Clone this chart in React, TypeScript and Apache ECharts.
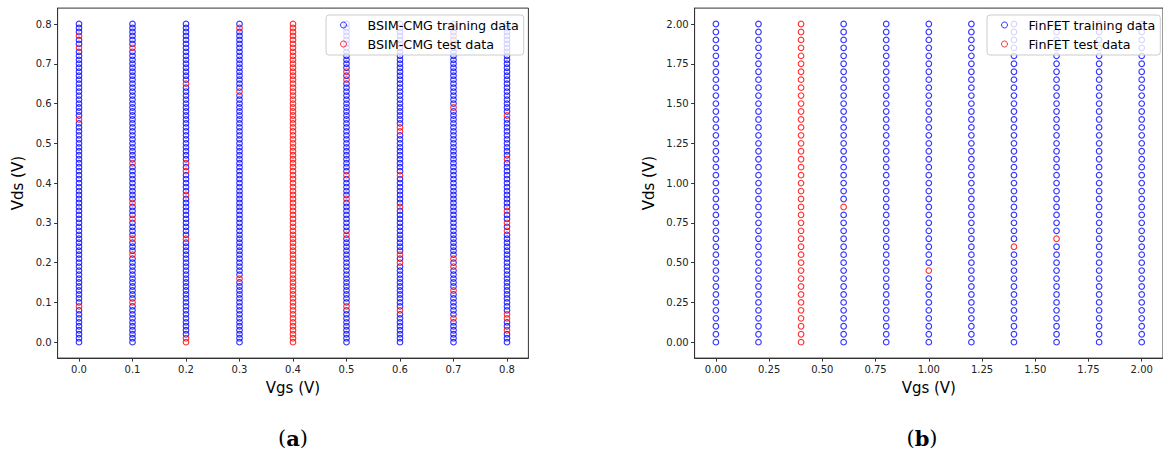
import React, { useEffect, useRef } from "react";
import * as echarts from "echarts";

// ---------- Data (a): BSIM-CMG ----------
const VGS_A = [0.0, 0.1, 0.2, 0.3, 0.4, 0.5, 0.6, 0.7, 0.8];
const VDS_A = [
  0.0, 0.01, 0.02, 0.03, 0.04, 0.05, 0.06, 0.07, 0.08, 0.09,
  0.1, 0.11, 0.12, 0.13, 0.14, 0.15, 0.16, 0.17, 0.18, 0.19,
  0.2, 0.21, 0.22, 0.23, 0.24, 0.25, 0.26, 0.27, 0.28, 0.29,
  0.3, 0.31, 0.32, 0.33, 0.34, 0.35, 0.36, 0.37, 0.38, 0.39,
  0.4, 0.41, 0.42, 0.43, 0.44, 0.45, 0.46, 0.47, 0.48, 0.49,
  0.5, 0.51, 0.52, 0.53, 0.54, 0.55, 0.56, 0.57, 0.58, 0.59,
  0.6, 0.61, 0.62, 0.63, 0.64, 0.65, 0.66, 0.67, 0.68, 0.69,
  0.7, 0.71, 0.72, 0.73, 0.74, 0.75, 0.76, 0.77, 0.78, 0.79,
  0.8,
];
const TEST_A_FULL_COLUMN = 0.4;
const TEST_A: [number, number][] = [
  [0.0, 0.09], [0.0, 0.56], [0.0, 0.74], [0.0, 0.77],
  [0.1, 0.1], [0.1, 0.22], [0.1, 0.26], [0.1, 0.31], [0.1, 0.35], [0.1, 0.45], [0.1, 0.74],
  [0.2, 0.0], [0.2, 0.01], [0.2, 0.26], [0.2, 0.37], [0.2, 0.43], [0.2, 0.45], [0.2, 0.65],
  [0.3, 0.16], [0.3, 0.63], [0.3, 0.79],
  [0.5, 0.09], [0.5, 0.27], [0.5, 0.36], [0.5, 0.42], [0.5, 0.66], [0.5, 0.68],
  [0.6, 0.08], [0.6, 0.2], [0.6, 0.22], [0.6, 0.34], [0.6, 0.42], [0.6, 0.53], [0.6, 0.54],
  [0.7, 0.06], [0.7, 0.13], [0.7, 0.19], [0.7, 0.21], [0.7, 0.59], [0.7, 0.75], [0.7, 0.77],
  [0.8, 0.03], [0.8, 0.06], [0.8, 0.07], [0.8, 0.28], [0.8, 0.3], [0.8, 0.33], [0.8, 0.46], [0.8, 0.57],
];
const TICKS_A = [0.0, 0.1, 0.2, 0.3, 0.4, 0.5, 0.6, 0.7, 0.8];

// ---------- Data (b): FinFET ----------
const VGS_B = [0.0, 0.2, 0.4, 0.6, 0.8, 1.0, 1.2, 1.4, 1.6, 1.8, 2.0];
const VDS_B = [
  0.0, 0.05, 0.1, 0.15, 0.2, 0.25, 0.3, 0.35, 0.4, 0.45,
  0.5, 0.55, 0.6, 0.65, 0.7, 0.75, 0.8, 0.85, 0.9, 0.95,
  1.0, 1.05, 1.1, 1.15, 1.2, 1.25, 1.3, 1.35, 1.4, 1.45,
  1.5, 1.55, 1.6, 1.65, 1.7, 1.75, 1.8, 1.85, 1.9, 1.95,
  2.0,
];
const TEST_B_FULL_COLUMN = 0.4;
const TEST_B: [number, number][] = [
  [0.6, 0.85], [1.0, 0.45], [1.4, 0.6], [1.6, 0.65],
];
const TICKS_B = [0.0, 0.25, 0.5, 0.75, 1.0, 1.25, 1.5, 1.75, 2.0];

const key = (a: number, b: number) => `${Math.round(a * 100)}_${Math.round(b * 100)}`;

function split(vgs: number[], vds: number[], tests: [number, number][], full: number) {
  const testSet = new Set(tests.map(([g, d]) => key(g, d)));
  const train: number[][] = [];
  const test: number[][] = [];
  for (const g of vgs) {
    for (const d of vds) {
      const isTest = Math.abs(g - full) < 1e-9 || testSet.has(key(g, d));
      (isTest ? test : train).push([g, d]);
    }
  }
  return { train, test };
}

const FONT = "DejaVu Sans";
const AXIS_COLOR = "#333";

function axisCommon(ticks: number[], digits: number) {
  return {
    type: "value",
    splitLine: { show: false },
    axisLine: { show: true, onZero: false, lineStyle: { color: AXIS_COLOR, width: 1 } },
    axisTick: { show: true, length: 3.5, customValues: ticks, lineStyle: { color: AXIS_COLOR, width: 1 } },
    axisLabel: {
      customValues: ticks,
      formatter: (v: number) => v.toFixed(digits),
      fontFamily: FONT,
      fontSize: 10,
      color: "#222",
      margin: 6,
    },
    nameLocation: "middle",
    nameTextStyle: { fontFamily: FONT, fontSize: 15, color: "#000" },
  };
}

const BLUE = "#0000ff";
const RED = "#ff0000";

function scatter(name: string, data: number[][], color: string, idx: number) {
  return {
    type: "scatter",
    name,
    xAxisIndex: idx,
    yAxisIndex: idx,
    data,
    symbol: "circle",
    symbolSize: 5.6,
    itemStyle: { color: "rgba(0,0,0,0)", borderColor: color, borderWidth: 1.15 },
    emphasis: { disabled: true },
  };
}

function legend(names: string[], left: number, textPad: number) {
  return {
    orient: "vertical",
    left,
    top: 15,
    data: names,
    itemWidth: 6,
    itemHeight: 6,
    itemGap: 5,
    padding: [3, 5, 4, 14],
    backgroundColor: "rgba(255,255,255,0.8)",
    borderColor: "#cccccc",
    borderWidth: 1,
    borderRadius: 3,
    selectedMode: false,
    itemStyle: { borderWidth: 1 },
    textStyle: {
      fontFamily: FONT,
      fontSize: 12.7,
      color: "#000",
      lineHeight: 14,
      padding: [0, 0, 0, textPad],
    },
  };
}

export default function App() {
  const ref = useRef<HTMLDivElement>(null);
  useEffect(() => {
    if (!ref.current) return;
    const chart = echarts.init(ref.current, null, { renderer: "svg" });
    const A = split(VGS_A, VDS_A, TEST_A, TEST_A_FULL_COLUMN);
    const B = split(VGS_B, VDS_B, TEST_B, TEST_B_FULL_COLUMN);
    const gridStyle = { show: true, borderColor: AXIS_COLOR, borderWidth: 1, backgroundColor: "#fff" };
    const subLabel = (letter: string, x: number) => ({
      type: "text",
      x,
      y: 438,
      style: {
        text: `{p|(}{b|${letter}}{p|)}`,
        align: "center",
        verticalAlign: "middle",
        rich: {
          p: { fontFamily: "DejaVu Serif", fontSize: 21, fill: "#000" },
          b: { fontFamily: "DejaVu Serif", fontSize: 21, fontWeight: "bold", fill: "#000" },
        },
      },
    });
    chart.setOption({
      animation: false,
      backgroundColor: "#fff",
      textStyle: { fontFamily: FONT },
      grid: [
        { left: 57.6, top: 8.1, width: 470.8, height: 350, ...gridStyle },
        { left: 694.6, top: 8.1, width: 470.8, height: 350, ...gridStyle },
      ],
      xAxis: [
        { ...axisCommon(TICKS_A, 1), gridIndex: 0, min: -0.04, max: 0.84, name: "Vgs (V)", nameGap: 22 },
        { ...axisCommon(TICKS_B, 2), gridIndex: 1, min: -0.1, max: 2.1, name: "Vgs (V)", nameGap: 22 },
      ],
      yAxis: [
        { ...axisCommon(TICKS_A, 1), gridIndex: 0, min: -0.04, max: 0.84, name: "Vds (V)", nameGap: 32 },
        { ...axisCommon(TICKS_B, 2), gridIndex: 1, min: -0.1, max: 2.1, name: "Vds (V)", nameGap: 38 },
      ],
      legend: [
        legend(["BSIM-CMG training data", "BSIM-CMG test data"], 326, 16),
        legend(["FinFET training data", "FinFET test data"], 987, 16),
      ],
      series: [
        scatter("BSIM-CMG training data", A.train, BLUE, 0),
        scatter("BSIM-CMG test data", A.test, RED, 0),
        scatter("FinFET training data", B.train, BLUE, 1),
        scatter("FinFET test data", B.test, RED, 1),
      ],
      graphic: [subLabel("a", 293), subLabel("b", 922)],
    });
    return () => chart.dispose();
  }, []);
  return (
    <div
      ref={ref}
      style={{ position: "fixed", left: 0, top: 0, width: 1163, height: 457, background: "#fff" }}
    />
  );
}
